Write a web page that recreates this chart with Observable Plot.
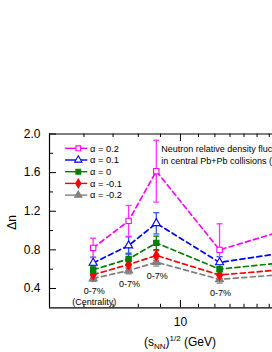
<!DOCTYPE html>
<html><head><meta charset="utf-8">
<script src="https://cdn.jsdelivr.net/npm/d3@7"></script>
<script src="https://cdn.jsdelivr.net/npm/@observablehq/plot@0.6"></script>
<style>
html,body{margin:0;padding:0;background:#fff;overflow:hidden;}
#chart{width:272px;height:352px;overflow:hidden;}
</style></head><body><div id="chart"></div>
<script>
// ---- data ----
const energies = [6.3, 7.6, 8.8, 12.3, 17.3];           // sqrt(s_NN) in GeV
const seriesNames = ["α = 0.2", "α = 0.1", "α = 0", "α = -0.1", "α = -0.2"];
const dnAlpha02  = [0.82, 1.10, 1.615, 0.80, 1.00];
const errAlpha02 = [0.10, 0.16, 0.32, 0.27, 0.30];
const dnAlpha01  = [0.665, 0.845, 1.075, 0.67, 0.77];
const errAlpha01 = [0.06, 0.09, 0.11, 0.06, 0.07];
const dnAlpha00  = [0.594, 0.705, 0.872, 0.60, 0.668];
const errAlpha00 = [0.04, 0.06, 0.07, 0.05, 0.05];
const dnAlphaM01  = [0.543, 0.648, 0.742, 0.54, 0.596];
const errAlphaM01 = [0.03, 0.04, 0.05, 0.04, 0.04];
const dnAlphaM02  = [0.503, 0.586, 0.672, 0.495, 0.545];
const errAlphaM02 = [0.03, 0.035, 0.04, 0.04, 0.04];
const centralityLabels = ["0-7%\n(Centrality)", "0-7%", "0-7%", "0-7%", "0-7%"];
const yTicksMajor = [0.4, 0.8, 1.2, 1.6, 2.0];
const yTicksMinor = [0.6, 1.0, 1.4, 1.8];
const xTicksMajor = [10];
const xTicksMinor = [6, 7, 8, 9, 11, 12, 13, 14, 15, 16, 17, 18, 19];
const noteText = "Neutron relative density fluctuation\nin central Pb+Pb collisions (NA49)";

// ---- styles ----
const seriesValues = [dnAlpha02, dnAlpha01, dnAlpha00, dnAlphaM01, dnAlphaM02];
const seriesErrors = [errAlpha02, errAlpha01, errAlpha00, errAlphaM01, errAlphaM02];
const seriesColors = ["#ff00ff", "#0000ff", "#008000", "#ff0000", "#808080"];
const errColors = ["#ff33ff", "#3355ff", "#008000", "#ff2222", "#8a8a8a"];
const seriesSymbols = ["square", "triangle", "square", "diamond", "triangle"];
const seriesFilled = [false, false, true, true, true];

const W = 272, H = 352;
const mL = 49, mT = 133.5, mB = H - 307.3;
const xDomain = [5, 20];
const pxPerDecade = 435;
const xRight = mL + pxPerDecade * Math.log10(xDomain[1] / xDomain[0]);
const yDomain = [0.2, 2.0];
const frameW = W - mL, frameH = H - mT - mB;

const capSymbol = {draw(ctx) { ctx.moveTo(-3, 0); ctx.lineTo(3, 0); }};

const marks = [];
// frame (left, top, bottom)
marks.push(Plot.ruleX([xDomain[0]], {stroke: "#000", strokeWidth: 1.2}));
marks.push(Plot.ruleY(yDomain, {stroke: "#000", strokeWidth: 1.2}));
// ticks (inward)
marks.push(Plot.tickY(yTicksMajor, {y: d => d, insetRight: frameW - 7, stroke: "#000"}));
marks.push(Plot.tickY(yTicksMinor, {y: d => d, insetRight: frameW - 4, stroke: "#000"}));
marks.push(Plot.tickX(xTicksMajor, {x: d => d, insetTop: frameH - 7.5, stroke: "#000"}));
marks.push(Plot.tickX(xTicksMinor, {x: d => d, insetTop: frameH - 3.5, stroke: "#000"}));
marks.push(Plot.tickX(xTicksMajor, {x: d => d, insetBottom: frameH - 7.5, stroke: "#000"}));
marks.push(Plot.tickX(xTicksMinor, {x: d => d, insetBottom: frameH - 3.5, stroke: "#000"}));
marks.push(Plot.axisY({ticks: yTicksMajor, tickSize: 0, tickPadding: 9, tickFormat: d3.format(".1f"), label: null, fontSize: 12}));
marks.push(Plot.axisX({ticks: xTicksMajor, tickSize: 0, tickPadding: 10, tickFormat: d => String(d), label: null, fontSize: 12}));

const order = [4, 3, 2, 1, 0];
order.forEach(i => {
  const rows = energies.map((e, j) => ({e, dn: seriesValues[i][j], err: seriesErrors[i][j]}));
  marks.push(Plot.line(rows, {x: "e", y: "dn", stroke: seriesColors[i], strokeWidth: 1.7, strokeDasharray: "5,3.5"}));
});
order.forEach(i => {
  const rows = energies.map((e, j) => ({e, dn: seriesValues[i][j], err: seriesErrors[i][j]}));
  marks.push(Plot.ruleX(rows, {x: "e", y1: d => d.dn - d.err, y2: d => d.dn + d.err, stroke: errColors[i], strokeWidth: 1.3}));
  marks.push(Plot.dot(rows, {x: "e", y: d => d.dn + d.err, symbol: capSymbol, stroke: errColors[i], strokeWidth: 1.3}));
  marks.push(Plot.dot(rows, {x: "e", y: d => d.dn - d.err, symbol: capSymbol, stroke: errColors[i], strokeWidth: 1.3}));
});
order.forEach(i => {
  const rows = energies.map((e, j) => ({e, dn: seriesValues[i][j]}));
  marks.push(Plot.dot(rows, {x: "e", y: "dn", symbol: seriesSymbols[i], r: 3.0,
    stroke: seriesColors[i], strokeWidth: 1.1, fill: seriesFilled[i] ? seriesColors[i] : "white"}));
});
// centrality labels below the lowest series
const labelRows = energies.map((e, j) => ({e, y: dnAlphaM02[j] - errAlphaM02[j], t: centralityLabels[j]}));
marks.push(Plot.text(labelRows, {x: "e", y: "y", text: "t", lineAnchor: "top", dy: 5, dx: 1, fontSize: 9, lineHeight: 1.2, fill: "#000"}));
// annotation
marks.push(Plot.text([noteText], {text: d => d, frameAnchor: "top-left", dx: 111.7, dy: 10.3, lineAnchor: "top", textAnchor: "start", fontSize: 9, lineHeight: 1.25, fill: "#000"}));

const chart = Plot.plot({
  width: W, height: H,
  marginLeft: mL, marginRight: 0, marginTop: mT, marginBottom: mB,
  style: "font-family: 'Liberation Sans', Arial, sans-serif; background: white; max-width: none; overflow: hidden;",
  x: {type: "log", domain: xDomain, range: [mL, xRight]},
  y: {domain: yDomain},
  marks
});
document.getElementById("chart").appendChild(chart);

// legend, axis titles (layout text)
const svg = d3.select(chart);
const font = "'Liberation Sans', Arial, sans-serif";
const lg = svg.append("g").attr("font-family", font).attr("font-size", 9.3).attr("text-anchor", "start");
const symMap = {square: d3.symbolSquare, triangle: d3.symbolTriangle, diamond: d3.symbolDiamond};
seriesNames.forEach((name, i) => {
  const yy = 148.3 + i * 11.7;
  lg.append("line").attr("x1", 65).attr("x2", 87.3).attr("y1", yy).attr("y2", yy)
    .attr("stroke", seriesColors[i]).attr("stroke-width", 1.4);
  lg.append("path").attr("d", d3.symbol(symMap[seriesSymbols[i]], Math.PI * 2.7 * 2.7)())
    .attr("transform", `translate(78.3,${yy})`)
    .attr("stroke", seriesColors[i]).attr("stroke-width", 1.1)
    .attr("fill", seriesFilled[i] ? seriesColors[i] : "white");
  lg.append("text").attr("x", 90).attr("y", yy).attr("dy", "0.35em").attr("text-anchor", "start").text(name);
});
const xt = svg.append("text").attr("font-family", font).attr("font-size", 12)
  .attr("x", 180).attr("y", 346).attr("text-anchor", "middle");
xt.append("tspan").text("(s");
xt.append("tspan").attr("font-size", 8).attr("dy", 3).text("NN");
xt.append("tspan").attr("dy", -3).text(")");
xt.append("tspan").attr("font-size", 8).attr("dy", -5).text("1/2");
xt.append("tspan").attr("dy", 5).text(" (GeV)");
svg.append("text").attr("font-family", font).attr("font-size", 12)
  .attr("transform", "translate(16,222.5) rotate(-90)").attr("text-anchor", "middle").text("Δn");
</script></body></html>
